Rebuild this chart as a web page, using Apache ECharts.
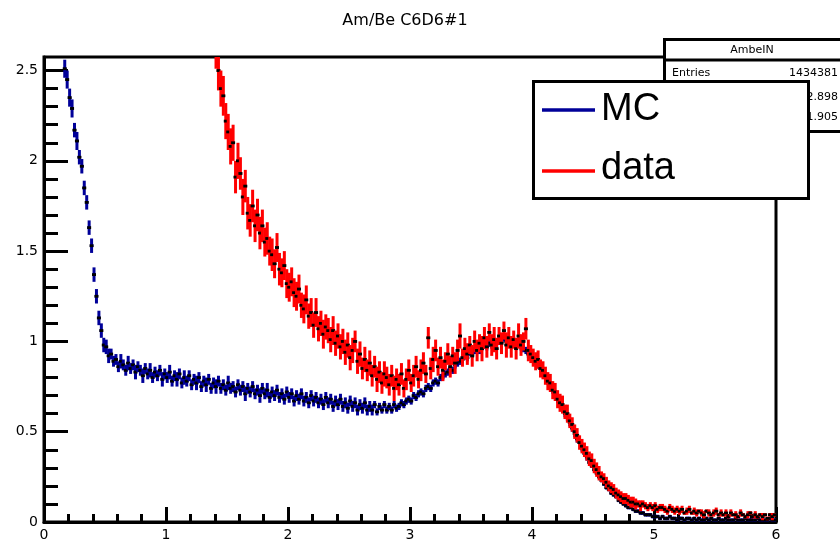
<!DOCTYPE html>
<html><head><meta charset="utf-8">
<script src="https://cdn.jsdelivr.net/npm/echarts@6/dist/echarts.min.js"></script>
<style>html,body{margin:0;padding:0;background:#fff}#c{width:840px;height:547px}</style>
</head><body><div id="c"></div>
<script>
// ---- data ----
const chartTitle = 'Am/Be C6D6#1';
const binWidth = 0.02;
const mcName = 'MC';
const mcStart = 0.15;
const mcValues = [
// 0.15 - 0.57
2.66,2.51,2.45,2.35,2.29,2.17,2.11,2.02,1.97,1.85,1.77,1.63,1.53,1.37,1.25,1.13,1.06,0.98,0.97,0.92,0.93,0.89,
// 0.59 - 2.89
0.90,0.86,0.89,0.87,0.84,0.88,0.85,0.87,0.83,0.86,0.84,0.81,0.85,0.82,0.84,0.80,0.83,0.81,0.84,0.79,
0.82,0.80,0.83,0.78,0.81,0.79,0.82,0.77,0.80,0.78,0.81,0.76,0.79,0.77,0.80,0.75,0.78,0.76,0.79,0.74,
0.77,0.75,0.78,0.74,0.76,0.73,0.77,0.74,0.75,0.72,0.76,0.73,0.75,0.71,0.74,0.72,0.75,0.71,0.73,0.70,
0.74,0.71,0.73,0.69,0.72,0.70,0.73,0.69,0.71,0.68,0.72,0.69,0.71,0.67,0.70,0.68,0.71,0.67,0.69,0.66,
0.70,0.67,0.69,0.66,0.68,0.65,0.69,0.66,0.68,0.64,0.67,0.65,0.68,0.64,0.66,0.63,0.67,0.64,0.66,0.62,
0.65,0.63,0.66,0.62,0.64,0.62,0.65,0.61,0.64,0.62,0.65,0.62,0.64,0.62,0.65,0.63,
// 2.91 - 5.01
0.64,0.66,0.65,0.67,0.68,0.67,0.70,0.69,0.71,0.72,0.71,0.74,0.75,0.74,0.77,0.78,0.77,0.80,0.81,0.82,
0.83,0.85,0.84,0.87,0.88,0.89,0.90,0.92,0.91,0.94,0.93,0.95,0.96,0.95,0.97,0.98,0.97,0.99,0.98,1.00,
0.99,1.01,1.00,1.02,1.00,1.01,0.99,1.00,0.98,0.99,0.97,0.96,0.95,0.93,0.92,0.90,0.89,0.87,0.85,0.83,
0.81,0.78,0.76,0.73,0.71,0.68,0.66,0.63,0.60,0.58,0.55,0.52,0.49,0.46,0.44,0.41,0.38,0.36,0.33,0.31,
0.29,0.27,0.25,0.23,0.21,0.19,0.18,0.16,0.15,0.14,0.12,0.11,0.10,0.09,0.08,0.08,0.07,0.06,0.06,0.05,
0.05,0.04,0.04,0.04,0.03,0.03,
// 5.03 - 5.99
0.03,0.02,0.03,0.02,0.02,0.03,0.02,0.02,0.01,0.02,0.02,0.01,0.02,0.02,0.01,0.02,0.01,0.02,0.01,0.01,
0.02,0.01,0.02,0.01,0.01,0.02,0.01,0.01,0.02,0.01,0.01,0.01,0.02,0.01,0.01,0.01,0.02,0.01,0.01,0.01,
0.01,0.02,0.01,0.01,0.01,0.01,0.02,0.01,0.01
];
// errors in units of 0.01
const mcErrors = [
5,5,5,5,5,4,5,4,4,4,4,4,4,4,4,4,4,4,4,4,3,3,
3,3,4,3,3,4,3,3,4,3, 3,4,3,3,4,3,3,3,3,4, 3,3,4,3,3,4,3,3,4,3, 3,3,3,4,3,3,3,4,3,3,
3,4,3,3,3,3,4,3,3,3, 3,3,3,4,3,3,3,3,3,4, 3,3,4,3,3,3,3,3,3,3, 3,3,3,3,3,3,3,3,3,3,
3,3,3,3,3,3,3,3,3,3, 3,3,3,3,3,3,3,3,3,3, 3,3,3,3,3,3,
2,2,2,2,2,2,2,2,2,2, 2,2,2,2,2,2,2,2,2,2, 2,2,2,2,2,2,2,2,2,2, 2,2,2,2,2,2,2,2,2,2,
2,2,2,2,2,2,2,2,2,2, 2,2,2,2,2,2,2,2,2,2, 2,2,2,2,2,2,2,2,2,2, 2,2,2,2,2,2,2,2,2,2,
2,2,2,2,1,2,1,2,1,1, 1,1,1,1,1,1,1,1,1,1, 1,1,1,1,1,1,
1,1,1,1,1,1,1,1,1,1, 1,1,1,1,1,1,1,1,1,1, 1,1,1,1,1,1,1,1,1,1, 1,1,1,1,1,1,1,1,1,1,
1,1,1,1,1,1,1,1,1
];
const dataName = 'data';
const dataStart = 1.41;
const dataValues = [
// 1.41 - 2.01
2.62,2.50,2.40,2.36,2.22,2.16,2.08,2.10,1.91,2.00,1.93,1.80,1.86,1.71,1.67,1.75,1.64,1.70,1.60,1.64,
1.55,1.57,1.50,1.48,1.43,1.52,1.40,1.38,1.42,1.32,1.30,
// 2.03 - 2.89
1.33,1.27,1.25,1.29,1.20,1.18,1.23,1.14,1.16,1.09,1.16,1.07,1.10,1.04,1.08,1.06,1.01,1.06,0.99,1.03,
0.97,1.00,0.94,0.98,0.91,0.95,1.00,0.89,0.93,0.85,0.90,0.84,0.88,0.81,0.86,0.79,0.83,0.77,0.82,0.80,
0.76,0.81,0.74,0.79,
// 2.91 - 3.99
0.76,0.82,0.74,0.79,0.84,0.77,0.81,0.86,0.79,0.84,0.88,0.82,1.02,0.85,0.90,0.95,0.86,0.91,0.84,0.89,
0.93,0.86,0.92,0.88,0.95,1.03,0.91,0.96,0.93,0.98,0.92,1.00,0.95,0.99,0.96,1.02,0.97,1.05,0.98,1.01,
0.96,1.03,0.99,1.06,0.98,1.02,0.97,1.01,0.96,1.03,0.98,1.00,1.07,0.95,0.93,
// 4.01 - 4.99
0.91,0.89,0.90,0.85,0.84,0.81,0.78,0.77,0.73,0.72,0.68,0.66,0.65,0.61,0.60,0.56,0.54,0.50,0.48,0.44,
0.42,0.40,0.38,0.35,0.34,0.31,0.29,0.27,0.25,0.24,0.22,0.20,0.19,0.18,0.16,0.15,0.14,0.13,0.13,0.12,
0.11,0.11,0.10,0.10,0.09,0.10,0.09,0.08,0.09,0.08,
// 5.01 - 5.99
0.09,0.07,0.08,0.08,0.07,0.06,0.08,0.07,0.06,0.07,0.06,0.07,0.05,0.06,0.07,0.05,0.06,0.05,0.06,0.05,
0.04,0.06,0.05,0.04,0.05,0.06,0.04,0.05,0.04,0.05,0.03,0.05,0.04,0.04,0.03,0.05,0.04,0.03,0.04,0.05,
0.03,0.04,0.03,0.04,0.03,0.04,0.02,0.04,0.03,0.04
];
const dataErrors = [
11,11,10,11,10,10,10,10,9,10,9,10,9,9,9,9,9,9,9,9,8,9,8,9,8,8,9,8,8,8,8,
8,8,8,8,7,8,8,7,8,7, 8,7,7,8,7,7,7,8,7,7, 7,7,7,7,7,7,6,7,7,6, 7,6,7,6,6,7,6,6,7,6, 6,6,7,6,
6,6,5,6,6,5,6,6,5,6, 6,5,6,6,7,6,5,6,6,5, 6,6,5,6,6,7,5,6,6,5, 6,6,6,5,7,6,6,5,6,7, 6,5,6,5,7,6,6,5,6,7, 6,5,6,6,5,
5,5,5,5,5,5,5,5,5,5, 5,5,5,4,5,4,4,4,4,4, 4,4,4,4,4,4,4,4,3,3, 3,3,3,3,3,3,3,3,3,3, 3,3,3,2,3,2,2,2,2,2,
2,2,2,2,2,2,2,2,2,2, 2,2,1,2,2,1,2,2,1,2, 2,1,2,1,2,2,1,2,1,2, 1,2,1,2,1,2,1,1,2,1, 1,2,1,1,2,1,1,1,2,1
];
const xMin = 0, xMax = 6, xStep = 1;
const yMin = 0, yMax = 2.575;
const yMajorTicks = [0, 0.5, 1, 1.5, 2, 2.5];
const yMinorTicks = [0.1,0.2,0.3,0.4,0.6,0.7,0.8,0.9,1.1,1.2,1.3,1.4,1.6,1.7,1.8,1.9,2.1,2.2,2.3,2.4];
const statTitle = 'AmbeIN';
const statRows = [['Entries', '1434381'], ['Mean', '2.898'], ['RMS', '1.905']];

// ---- styling ----
const mcColor = '#000099';
const dataColor = '#ff0000';
const labelFont = 'DejaVu Sans';

function histSeries(name, start, vals, errs, color) {
  const d = vals.map((v, i) => [start + i * binWidth, v, (errs[i] || 1) / 100]);
  return {
    type: 'custom', name: name, data: d, clip: true,
    xAxisIndex: 0, yAxisIndex: 0,
    encode: { x: 0, y: 1 },
    renderItem: function (params, api) {
      const x = api.value(0), y = api.value(1), e = api.value(2);
      const pL = api.coord([x - binWidth / 2, y]);
      const pR = api.coord([x + binWidth / 2, y]);
      const pT = api.coord([x, y + e]);
      const pB = api.coord([x, y - e]);
      const c = api.coord([x, y]);
      return {
        type: 'group',
        children: [
          { type: 'line', shape: { x1: pL[0] - 0.5, y1: pL[1], x2: pR[0] + 0.5, y2: pR[1] }, style: { stroke: color, lineWidth: 2.5 } },
          { type: 'line', shape: { x1: pT[0], y1: pT[1], x2: pB[0], y2: pB[1] }, style: { stroke: color, lineWidth: 3 } },
          { type: 'rect', shape: { x: c[0] - 2, y: c[1] - 1.4, width: 4, height: 2.8 }, style: { fill: '#000' } }
        ]
      };
    }
  };
}

const chart = echarts.init(document.getElementById('c'), null, { renderer: 'canvas' });
const option = {
  animation: false,
  backgroundColor: '#fff',
  title: {
    text: chartTitle, left: 400, top: 8, textAlign: 'center',
    textStyle: { fontFamily: labelFont, fontSize: 16, fontWeight: 'normal', color: '#000' }
  },
  grid: { left: 44, right: 64, top: 57, bottom: 25, show: true, borderColor: '#000', borderWidth: 3, backgroundColor: 'transparent' },
  xAxis: {
    type: 'value', min: xMin, max: xMax, interval: xStep,
    axisLine: { lineStyle: { color: '#000', width: 3 } },
    axisTick: { inside: true, length: 15, lineStyle: { color: '#000', width: 3 } },
    minorTick: { show: true, splitNumber: 5, length: 8, lineStyle: { color: '#000', width: 3 } },
    splitLine: { show: false },
    axisLabel: { color: '#000', fontFamily: labelFont, fontSize: 14, margin: 6 }
  },
  yAxis: [{
    type: 'value', min: yMin, max: yMax,
    axisLine: { show: true, lineStyle: { color: '#000', width: 3 } },
    axisTick: { inside: true, length: 24, customValues: yMajorTicks, lineStyle: { color: '#000', width: 3 } },
    splitLine: { show: false },
    axisLabel: { color: '#000', fontFamily: labelFont, fontSize: 14, margin: 6, customValues: yMajorTicks }
  }, {
    type: 'value', min: yMin, max: yMax, position: 'left',
    axisLine: { show: false },
    axisTick: { show: true, inside: true, length: 14, customValues: yMinorTicks, lineStyle: { color: '#000', width: 3 } },
    splitLine: { show: false },
    axisLabel: { show: false }
  }],
  series: [
    histSeries(mcName, mcStart, mcValues, mcErrors, mcColor),
    histSeries(dataName, dataStart, dataValues, dataErrors, dataColor)
  ],
  graphic: [
    // stat box
    { type: 'rect', z: 100, shape: { x: 664.5, y: 39.5, width: 190, height: 92 }, style: { fill: '#fff', stroke: '#000', lineWidth: 3 } },
    { type: 'line', z: 101, shape: { x1: 664, y1: 60, x2: 840, y2: 60 }, style: { stroke: '#000', lineWidth: 3 } },
    { type: 'text', z: 101, x: 752, y: 50, style: { text: statTitle, font: '11px "DejaVu Sans"', fill: '#000', textAlign: 'center', textVerticalAlign: 'middle' } },
    { type: 'text', z: 101, x: 672, y: 73, style: { text: statRows[0][0], font: '11px "DejaVu Sans"', fill: '#000', textVerticalAlign: 'middle' } },
    { type: 'text', z: 101, x: 838, y: 73, style: { text: statRows[0][1], font: '11px "DejaVu Sans"', fill: '#000', textAlign: 'right', textVerticalAlign: 'middle' } },
    { type: 'text', z: 101, x: 672, y: 97, style: { text: statRows[1][0], font: '11px "DejaVu Sans"', fill: '#000', textVerticalAlign: 'middle' } },
    { type: 'text', z: 101, x: 838, y: 97, style: { text: statRows[1][1], font: '11px "DejaVu Sans"', fill: '#000', textAlign: 'right', textVerticalAlign: 'middle' } },
    { type: 'text', z: 101, x: 672, y: 117, style: { text: statRows[2][0], font: '11px "DejaVu Sans"', fill: '#000', textVerticalAlign: 'middle' } },
    { type: 'text', z: 101, x: 838, y: 117, style: { text: statRows[2][1], font: '11px "DejaVu Sans"', fill: '#000', textAlign: 'right', textVerticalAlign: 'middle' } },
    // legend
    { type: 'rect', z: 110, shape: { x: 533.5, y: 81.5, width: 275, height: 117 }, style: { fill: '#fff', stroke: '#000', lineWidth: 3 } },
    { type: 'line', z: 111, shape: { x1: 542, y1: 110, x2: 595, y2: 110 }, style: { stroke: mcColor, lineWidth: 3.5 } },
    { type: 'line', z: 111, shape: { x1: 542, y1: 171, x2: 595, y2: 171 }, style: { stroke: dataColor, lineWidth: 3.5 } },
    { type: 'text', z: 111, x: 601, y: 110, style: { text: mcName, font: '38px "Liberation Sans"', fill: '#000', textVerticalAlign: 'middle' } },
    { type: 'text', z: 111, x: 601, y: 169, style: { text: dataName, font: '38px "Liberation Sans"', fill: '#000', textVerticalAlign: 'middle' } }
  ]
};
chart.setOption(option);
</script>
</body></html>
